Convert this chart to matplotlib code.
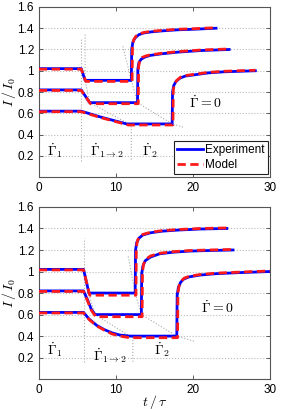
import numpy as np
import matplotlib
matplotlib.use('Agg')
import matplotlib.pyplot as plt

plt.rcParams['font.family'] = ['Liberation Sans', 'DejaVu Sans']
plt.rcParams['mathtext.fontset'] = 'cm'

# ---- top panel: experiment (blue) ----
top_t1_exp = [0, 5.5, 6.0, 12.0, 12.05, 12.2, 12.5, 13.0, 13.6, 14.5, 16, 18, 20, 23]
top_I1_exp = [1.02, 1.02, 0.91, 0.91, 1.20, 1.27, 1.31, 1.34, 1.355, 1.365, 1.375, 1.385, 1.39, 1.40]
top_t2_exp = [0, 5.5, 6.6, 12.8, 12.85, 13.0, 13.3, 13.8, 14.5, 16, 18, 21, 24.7]
top_I2_exp = [0.82, 0.82, 0.70, 0.70, 1.02, 1.08, 1.11, 1.13, 1.145, 1.16, 1.175, 1.19, 1.20]
top_t3_exp = [0, 5.5, 8.0, 11.4, 17.3, 17.35, 17.5, 17.8, 18.3, 19, 20, 22, 24, 28.1]
top_I3_exp = [0.62, 0.62, 0.565, 0.50, 0.50, 0.80, 0.86, 0.90, 0.93, 0.95, 0.96, 0.98, 0.99, 1.00]

# ---- top panel: model (red) ----
top_t1_mod = [0, 5.5, 6.1, 12.1, 12.15, 12.3, 12.6, 13.0, 13.6, 14.5, 16, 18, 20, 23]
top_I1_mod = [1.015, 1.015, 0.90, 0.90, 1.22, 1.29, 1.325, 1.345, 1.36, 1.37, 1.38, 1.39, 1.395, 1.405]
top_t2_mod = [0, 5.5, 6.7, 12.9, 12.95, 13.1, 13.4, 13.9, 14.5, 16, 18, 21, 24.7]
top_I2_mod = [0.815, 0.815, 0.69, 0.69, 1.04, 1.10, 1.125, 1.14, 1.15, 1.165, 1.18, 1.195, 1.205]
top_t3_mod = [0, 5.5, 8.0, 11.6, 17.4, 17.45, 17.6, 17.9, 18.4, 19, 20, 22, 24, 28.1]
top_I3_mod = [0.615, 0.615, 0.56, 0.49, 0.49, 0.82, 0.875, 0.91, 0.94, 0.955, 0.965, 0.985, 0.995, 1.005]

# ---- bottom panel: experiment (blue) ----
bot_t1_exp = [0, 5.8, 6.5, 12.5, 12.55, 12.7, 13.0, 13.5, 14.5, 16, 18, 21, 24.4]
bot_I1_exp = [1.02, 1.02, 0.80, 0.80, 1.20, 1.27, 1.31, 1.34, 1.36, 1.375, 1.385, 1.395, 1.40]
bot_t2_exp = [0, 5.8, 6.3, 6.8, 7.3, 13.3, 13.35, 13.5, 13.8, 14.5, 15.7, 17.5, 19.6, 22, 25.2]
bot_I2_exp = [0.82, 0.82, 0.74, 0.65, 0.60, 0.60, 0.98, 1.05, 1.10, 1.135, 1.165, 1.18, 1.19, 1.195, 1.20]
bot_t3_exp = [0, 5.8, 6.5, 7.5, 8.5, 9.5, 10.5, 11.8, 17.9, 17.95, 18.1, 18.4, 18.8, 19.5, 20.9, 23, 26.1, 30]
bot_I3_exp = [0.62, 0.62, 0.56, 0.50, 0.46, 0.43, 0.41, 0.40, 0.40, 0.78, 0.85, 0.90, 0.93, 0.95, 0.967, 0.98, 0.99, 1.00]

# ---- bottom panel: model (red) ----
bot_t1_mod = [0, 5.8, 6.6, 12.6, 12.65, 12.8, 13.1, 13.5, 14.5, 16, 18, 21, 24.4]
bot_I1_mod = [1.015, 1.015, 0.78, 0.78, 1.22, 1.29, 1.325, 1.345, 1.365, 1.38, 1.39, 1.40, 1.405]
bot_t2_mod = [0, 5.8, 6.3, 6.8, 7.4, 13.4, 13.45, 13.6, 13.9, 14.5, 15.7, 17.5, 19.6, 22, 25.2]
bot_I2_mod = [0.815, 0.815, 0.73, 0.64, 0.58, 0.58, 1.00, 1.07, 1.115, 1.145, 1.17, 1.185, 1.195, 1.20, 1.205]
bot_t3_mod = [0, 5.8, 6.5, 7.5, 8.5, 9.5, 10.5, 11.8, 18.0, 18.05, 18.2, 18.5, 18.9, 19.5, 20.9, 23, 26.1, 30]
bot_I3_mod = [0.615, 0.615, 0.555, 0.495, 0.455, 0.42, 0.40, 0.385, 0.385, 0.80, 0.87, 0.915, 0.94, 0.955, 0.972, 0.985, 0.995, 1.005]

# ---- grey dotted phase boundaries ----
top_guides = [
    ([5.45, 5.45], [0.15, 1.30]),
    ([6.0, 6.0, 6.6, 11.7, 12.0, 12.0], [1.34, 0.91, 0.70, 0.50, 0.50, 0.15]),
    ([10.9, 12.0, 12.8, 17.3, 18.7], [1.23, 0.91, 0.70, 0.50, 0.47]),
]
bot_guides = [
    ([5.8, 5.8], [0.16, 1.31]),
    ([6.5, 7.3, 11.8, 12.2, 12.2], [0.79, 0.60, 0.40, 0.38, 0.15]),
    ([11.6, 12.5, 13.3, 17.9, 20.3], [1.14, 0.80, 0.60, 0.40, 0.35]),
]

# phase labels: (t, I, text)
top_labels = [(1.0, 0.25, r'$\dot{\Gamma}_1$'), (6.7, 0.25, r'$\dot{\Gamma}_{1\to 2}$'),
              (13.4, 0.25, r'$\dot{\Gamma}_2$'), (19.5, 0.70, r'$\dot{\Gamma}=0$')]
bot_labels = [(1.0, 0.27, r'$\dot{\Gamma}_1$'), (7.0, 0.22, r'$\dot{\Gamma}_{1\to 2}$'),
              (15.0, 0.27, r'$\dot{\Gamma}_2$'), (21.0, 0.66, r'$\dot{\Gamma}=0$')]

yticks = [0.2, 0.4, 0.6, 0.8, 1.0, 1.2, 1.4, 1.6]
ytick_labels = ['0.2', '0.4', '0.6', '0.8', '1', '1.2', '1.4', '1.6']
xticks = [0, 10, 20, 30]


def draw_panel(ax, exp, mod, guides, labels):
    for t, I in guides:
        ax.plot(t, I, color='#aaaaaa', ls=':', lw=0.8, zorder=1)
    for i, ((te, Ie), (tm, Im)) in enumerate(zip(exp, mod)):
        ax.plot(te, Ie, color='#0000ff', lw=2.0, zorder=3,
                label='Experiment' if i == 0 else None)
        ax.plot(tm, Im, color='#ff1a1a', lw=2.0, ls=(0, (3, 1.6)), zorder=4,
                label='Model' if i == 0 else None)
    for t, I, s in labels:
        ax.text(t, I, s, fontsize=10, ha='left', va='center')
    ax.set_xlim(0, 30)
    ax.set_ylim(0, 1.6)
    ax.set_xticks(xticks)
    ax.set_yticks(yticks)
    ax.set_yticklabels(ytick_labels)
    ax.yaxis.grid(True, ls=':', color='#bbbbbb', lw=0.8)
    ax.tick_params(direction='in', top=True, right=True, labelsize=8.5,
                   length=3, width=0.6, color='#444444')
    for sp in ax.spines.values():
        sp.set_color('#555555')
        sp.set_linewidth(0.8)
    ax.set_ylabel(r'$I\,/\,I_0$', fontsize=10)
    ax.yaxis.set_label_coords(-0.09, 0.5)


fig = plt.figure(figsize=(2.99, 4.09), dpi=100)
ax1 = fig.add_axes([0.130, 0.567, 0.773, 0.416])
ax2 = fig.add_axes([0.130, 0.073, 0.773, 0.421])

draw_panel(ax1,
           [(top_t1_exp, top_I1_exp), (top_t2_exp, top_I2_exp), (top_t3_exp, top_I3_exp)],
           [(top_t1_mod, top_I1_mod), (top_t2_mod, top_I2_mod), (top_t3_mod, top_I3_mod)],
           top_guides, top_labels)
draw_panel(ax2,
           [(bot_t1_exp, bot_I1_exp), (bot_t2_exp, bot_I2_exp), (bot_t3_exp, bot_I3_exp)],
           [(bot_t1_mod, bot_I1_mod), (bot_t2_mod, bot_I2_mod), (bot_t3_mod, bot_I3_mod)],
           bot_guides, bot_labels)

ax2.set_xlabel(r'$t\,/\,\tau$', fontsize=10, labelpad=-2.5)

leg = ax1.legend(loc='lower right', bbox_to_anchor=(0.99, 0.02), fontsize=8.5,
                 handlelength=2.2, handletextpad=0.2, borderpad=0.25,
                 labelspacing=0.2, fancybox=False, framealpha=1, borderaxespad=0)
leg.get_frame().set_edgecolor('#222222')
leg.get_frame().set_linewidth(0.8)

fig.savefig('out.png', dpi=100)
